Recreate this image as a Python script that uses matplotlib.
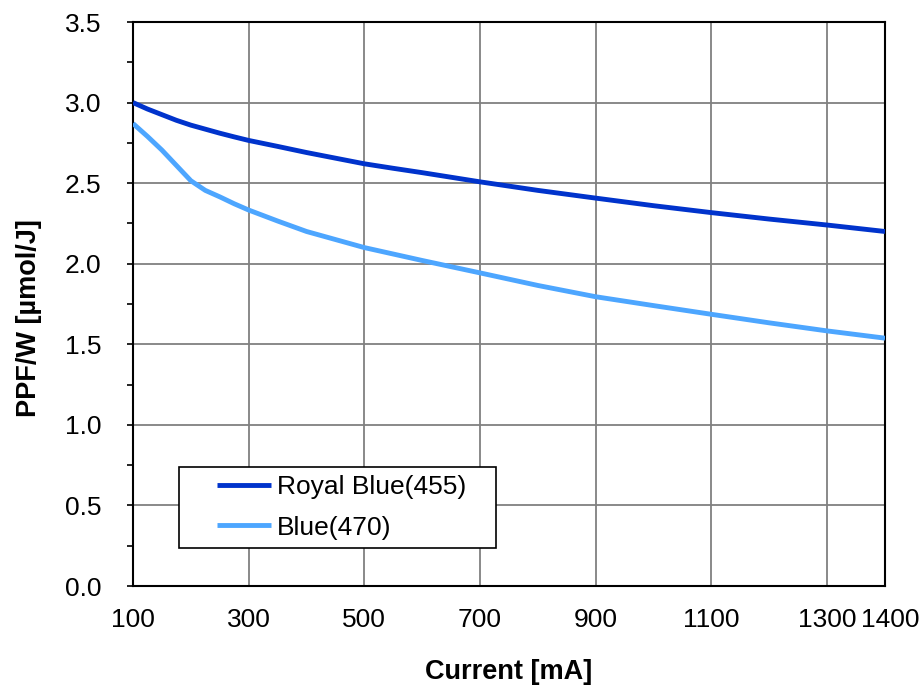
import numpy as np
import matplotlib
matplotlib.use("Agg")
import matplotlib.pyplot as plt
import matplotlib.transforms as mtransforms
from matplotlib.ticker import MultipleLocator, FormatStrFormatter
from matplotlib.legend_handler import HandlerLine2D

plt.rcParams['font.family'] = ['Liberation Sans', 'DejaVu Sans']

# Data
current_ma = [100, 125, 150, 175, 200, 225, 250, 275, 300, 350, 400, 450, 500, 550, 600, 700,
              800, 900, 1000, 1100, 1200, 1300, 1400]
royal_blue_455 = [3.00, 2.96, 2.925, 2.89, 2.86, 2.835, 2.81, 2.787, 2.765, 2.728, 2.69, 2.655,
                  2.62, 2.592, 2.565, 2.508, 2.455, 2.407, 2.36, 2.317, 2.277, 2.24, 2.20]
blue_470 = [2.87, 2.79, 2.705, 2.61, 2.515, 2.455, 2.415, 2.372, 2.333, 2.265, 2.20, 2.15,
            2.10, 2.06, 2.02, 1.943, 1.865, 1.795, 1.74, 1.686, 1.633, 1.583, 1.538]
series_labels = ['Royal Blue(455)', 'Blue(470)']
x_ticks = [100, 300, 500, 700, 900, 1100, 1300, 1400]


class ShiftedLine(HandlerLine2D):
    # leaves some blank space before the legend line
    def __init__(self, shift, **kw):
        super().__init__(**kw)
        self.shift = shift

    def create_artists(self, legend, orig_handle, xdescent, ydescent, width, height, fontsize, trans):
        s = self.shift * fontsize
        return super().create_artists(legend, orig_handle, xdescent - s, ydescent, width - s,
                                      height, fontsize, trans)


fig, ax = plt.subplots(figsize=(9.24, 6.88), dpi=100)
fig.subplots_adjust(left=133/924, right=885/924, bottom=1 - 586/688, top=1 - 22/688)

l1, = ax.plot(current_ma, royal_blue_455, color='#0033CC', lw=3.5, label=series_labels[0],
              solid_capstyle='butt', solid_joinstyle='round', zorder=3)
l2, = ax.plot(current_ma, blue_470, color='#4DA6FF', lw=3.5, label=series_labels[1],
              solid_capstyle='butt', solid_joinstyle='round', zorder=3)

ax.set_xlim(100, 1400)
ax.set_ylim(0, 3.5)
ax.set_xticks(x_ticks)
ax.yaxis.set_major_locator(MultipleLocator(0.5))
ax.yaxis.set_minor_locator(MultipleLocator(0.25))
ax.yaxis.set_major_formatter(FormatStrFormatter('%.1f'))

ax.grid(True, which='major', color='#808080', lw=1.3)
ax.set_axisbelow(True)
for sp in ax.spines.values():
    sp.set_color('black')
    sp.set_linewidth(1.5)

ax.tick_params(axis='x', length=0, pad=16, labelsize=19)
ax.tick_params(axis='y', which='both', direction='out', length=4.5, width=1.2, pad=18, labelsize=19)

# last label sits a little to the right, as in the original
last = ax.get_xticklabels()[-1]
last.set_transform(last.get_transform() + mtransforms.ScaledTranslation(5/100, 0, fig.dpi_scale_trans))

ax.set_xlabel('Current [mA]', fontsize=19.5, fontweight='bold', labelpad=19)
ax.set_ylabel('PPF/W [µmol/J]', fontsize=19.5, fontweight='bold')
ax.yaxis.set_label_coords(-0.121, 0.475)

leg = ax.legend(handles=[l1, l2], labels=[series_labels[0] + '   ', series_labels[1]],
                loc='lower left', bbox_to_anchor=(0.061, 0.068),
                borderaxespad=0, fontsize=19, frameon=True, fancybox=False, shadow=False,
                handlelength=3.2, handletextpad=0.2, labelspacing=0.62, borderpad=0.3,
                handler_map={l1: ShiftedLine(1.15), l2: ShiftedLine(1.15)})
leg.get_frame().set_edgecolor('black')
leg.get_frame().set_linewidth(1.2)
leg.get_frame().set_alpha(1)

fig.savefig('out.png', dpi=100)
